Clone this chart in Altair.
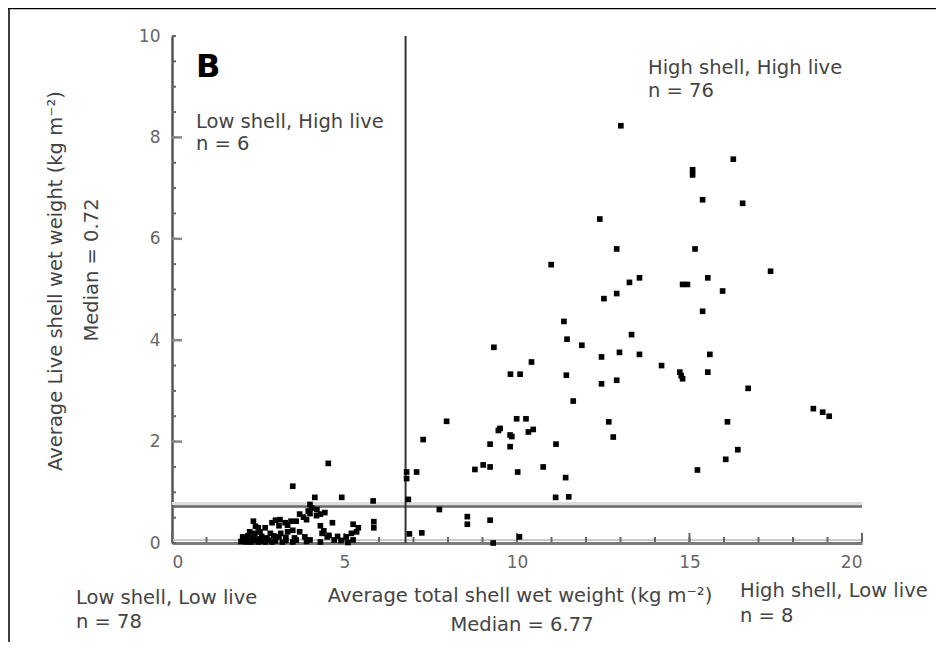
import altair as alt
import pandas as pd

# ---------------- data ----------------
# Low shell, Low live (n = 78)
ll_shell = [2.00, 2.10, 2.15, 2.20, 2.30, 2.40, 2.45, 2.50, 2.60, 2.70, 2.80, 2.90,
            3.00, 3.20, 3.30, 3.50, 3.60, 3.90, 4.00, 4.30, 4.70, 4.90, 5.10, 5.25,
            2.05, 2.20, 2.35, 2.60, 2.75, 2.95, 3.10, 3.30, 3.55, 3.85, 4.50, 4.55, 4.80, 5.05,
            2.25, 2.40, 2.55, 2.85, 3.15, 3.35, 3.50, 3.70, 4.35, 4.40, 5.20, 5.35,
            2.42, 2.50, 2.70, 3.10, 3.35, 4.30, 5.40, 5.85,
            2.36, 2.90, 3.00, 3.13, 3.28, 3.45, 3.60, 3.90, 4.65, 5.25, 5.85,
            3.70, 3.81, 4.00, 4.19, 4.30, 4.43,
            4.05, 4.20, 3.95]
ll_live = [0.03, 0.06, 0.02, 0.04, 0.02, 0.05, 0.08, 0.02, 0.04, 0.02, 0.05, 0.02,
           0.04, 0.02, 0.05, 0.02, 0.06, 0.03, 0.06, 0.02, 0.06, 0.05, 0.01, 0.06,
           0.12, 0.14, 0.11, 0.13, 0.10, 0.14, 0.12, 0.11, 0.10, 0.12, 0.12, 0.15, 0.13, 0.12,
           0.22, 0.19, 0.22, 0.19, 0.19, 0.22, 0.25, 0.22, 0.19, 0.24, 0.19, 0.22,
           0.33, 0.30, 0.30, 0.34, 0.35, 0.34, 0.30, 0.30,
           0.43, 0.40, 0.45, 0.46, 0.40, 0.43, 0.43, 0.46, 0.40, 0.37, 0.42,
           0.57, 0.51, 0.58, 0.54, 0.57, 0.60,
           0.69, 0.66, 0.63]

# Low shell, High live (n = 6)
lh_shell = [3.50, 4.53, 4.14, 4.92, 5.83, 4.00]
lh_live = [1.12, 1.57, 0.90, 0.90, 0.83, 0.76]

# High shell, Low live (n = 8)
hl_shell = [7.75, 8.56, 8.56, 9.22, 6.88, 7.24, 10.07, 9.31]
hl_live = [0.66, 0.52, 0.37, 0.45, 0.18, 0.20, 0.12, 0.00]

# High shell, High live (n = 76)
hh_shell = [13.01, 16.27, 15.09, 15.09, 15.38, 16.54, 12.40, 12.89, 15.16, 10.99,
            17.35, 13.26, 13.55, 14.80, 14.94, 15.53, 15.96, 12.89, 12.52, 15.38,
            11.36, 13.32, 11.45, 11.88, 9.33, 12.97, 13.55, 12.45, 15.59, 10.42,
            14.19, 14.72, 14.80, 15.53, 9.81, 10.09, 11.43, 12.89, 12.45, 16.70,
            11.63, 18.59, 18.86, 19.05, 7.96, 9.99, 10.26, 12.66, 16.10, 9.46,
            9.51, 10.33, 10.47, 9.80, 9.80, 12.79, 7.28, 9.22, 11.13, 16.40,
            16.05, 9.02, 9.22, 8.78, 10.76, 15.23, 10.02, 6.80, 6.80, 7.09,
            11.41, 11.12, 11.50, 6.85, 14.76, 9.85]
hh_live = [8.23, 7.57, 7.36, 7.26, 6.77, 6.70, 6.39, 5.80, 5.80, 5.49,
           5.36, 5.14, 5.23, 5.10, 5.10, 5.23, 4.97, 4.92, 4.82, 4.57,
           4.37, 4.11, 4.02, 3.90, 3.86, 3.76, 3.72, 3.67, 3.72, 3.57,
           3.50, 3.37, 3.24, 3.37, 3.33, 3.33, 3.31, 3.21, 3.14, 3.05,
           2.80, 2.65, 2.58, 2.50, 2.40, 2.45, 2.45, 2.39, 2.39, 2.22,
           2.26, 2.19, 2.24, 2.13, 1.90, 2.09, 2.04, 1.95, 1.95, 1.84,
           1.65, 1.54, 1.50, 1.45, 1.50, 1.44, 1.40, 1.40, 1.27, 1.40,
           1.29, 0.90, 0.91, 0.86, 3.30, 2.10]

median_shell = [6.77]
median_live = [0.72]

x_tick_labels = [0, 5, 10, 15, 20]
y_tick_labels = [0, 2, 4, 6, 8, 10]
x_minor_ticks = list(range(0, 21))
y_minor_ticks = [i * 0.5 for i in range(0, 21)]
y_major_ticks = [2, 4, 6, 8]

x_title = "Average total shell wet weight (kg m⁻²)"
x_median_label = "Median = 6.77"
y_title = "Average Live shell wet weight (kg m⁻²)"
y_median_label = "Median = 0.72"

# ---------------- chart ----------------
W, H = 690, 507
FONT = "DejaVu Sans"
TXT = "#444"

points = pd.DataFrame({
    "shell": ll_shell + lh_shell + hl_shell + hh_shell,
    "live": ll_live + lh_live + hl_live + hh_live,
})

xscale = alt.Scale(domain=[0, 20], nice=False, zero=False)
yscale = alt.Scale(domain=[0, 10], nice=False, zero=False)

base_pts = alt.Chart(points).mark_square(size=32, color="#000", opacity=1, filled=True).encode(
    x=alt.X("shell:Q", scale=xscale,
            axis=alt.Axis(values=x_tick_labels, title=None, ticks=False, grid=False,
                          domainColor="#7a7a7a", domainWidth=3, labelFont=FONT,
                          labelFontSize=17, labelColor="#666", labelPadding=11,
                          format="d")),
    y=alt.Y("live:Q", scale=yscale,
            axis=alt.Axis(values=y_tick_labels, title=None, ticks=False, grid=False,
                          domainColor="#555", domainWidth=2.5, labelFont=FONT,
                          labelFontSize=17, labelColor="#666", labelPadding=12,
                          format="d")),
)

# inward ticks
x_ticks = alt.Chart(pd.DataFrame({"v": x_minor_ticks})).mark_rule(color="#666", strokeWidth=2).encode(
    x=alt.X("v:Q", scale=xscale), y=alt.value(H - 1), y2=alt.value(H - 6))
x_ticks_major = alt.Chart(pd.DataFrame({"v": x_tick_labels})).mark_rule(color="#666", strokeWidth=2).encode(
    x=alt.X("v:Q", scale=xscale), y=alt.value(H - 1), y2=alt.value(H - 10))

y_ticks = alt.Chart(pd.DataFrame({"v": y_minor_ticks})).mark_rule(color="#666", strokeWidth=2).encode(
    y=alt.Y("v:Q", scale=yscale), x=alt.value(0), x2=alt.value(4))
y_ticks_major = alt.Chart(pd.DataFrame({"v": y_major_ticks})).mark_rule(color="#888", strokeWidth=2.5).encode(
    y=alt.Y("v:Q", scale=yscale), x=alt.value(0), x2=alt.value(10))

# x-axis light band
x_band = alt.Chart(pd.DataFrame({"v": [0]})).mark_rule(color="#c8c8c8", strokeWidth=2, yOffset=-3).encode(
    y=alt.Y("v:Q", scale=yscale))

# medians
h_band = alt.Chart(pd.DataFrame({"v": median_live})).mark_rule(color="#dcdcdc", strokeWidth=3, yOffset=-3).encode(
    y=alt.Y("v:Q", scale=yscale))
h_med = alt.Chart(pd.DataFrame({"v": median_live})).mark_rule(color="#666", strokeWidth=2.5).encode(
    y=alt.Y("v:Q", scale=yscale))
v_med = alt.Chart(pd.DataFrame({"v": median_shell})).mark_rule(color="#333", strokeWidth=2).encode(
    x=alt.X("v:Q", scale=xscale))

# frame lines (top and left of the figure box)
frame_top = alt.Chart(pd.DataFrame({"v": [0]})).mark_rule(color="#000", strokeWidth=1.5).encode(
    x=alt.value(-164), x2=alt.value(W + 80), y=alt.value(-27.5))
frame_left = alt.Chart(pd.DataFrame({"v": [0]})).mark_rule(color="#000", strokeWidth=1.5).encode(
    x=alt.value(-163), y=alt.value(-28), y2=alt.value(H + 110))


def label(text, x, y, size=19.5, color=TXT, weight="normal", align="left", angle=0, baseline="alphabetic"):
    return alt.Chart(pd.DataFrame({"t": [text]})).mark_text(
        font=FONT, fontSize=size, color=color, fontWeight=weight, align=align,
        angle=angle, baseline=baseline
    ).encode(text="t:N", x=alt.value(x), y=alt.value(y))


texts = [
    label("B", 24, 41, size=32, color="#000", weight="bold"),
    label("Low shell, High live", 24, 92),
    label("n = 6", 24, 114),
    label("High shell, High live", 476, 38),
    label("n = 76", 476, 61),
    label("Low shell, Low live", -96, 568),
    label("n = 78", -96, 592),
    label("High shell, Low live", 568, 561),
    label("n = 8", 568, 586),
    label(x_title, 348, 566, align="center"),
    label(x_median_label, 350, 595, align="center"),
    label(y_title, -116, 245, align="center", angle=270, baseline="middle"),
    label(y_median_label, -80, 234, align="center", angle=270, baseline="middle"),
]

chart = alt.layer(
    h_band, x_band, h_med, v_med, x_ticks, x_ticks_major, y_ticks, y_ticks_major,
    base_pts, frame_top, frame_left, *texts
).properties(
    width=W, height=H,
    autosize=alt.AutoSizeParams(type="none"),
    padding={"left": 164, "top": 28, "right": 74, "bottom": 99},
).configure_view(stroke=None)

chart.save("out.html", embed_options={"renderer": "svg", "actions": False})
